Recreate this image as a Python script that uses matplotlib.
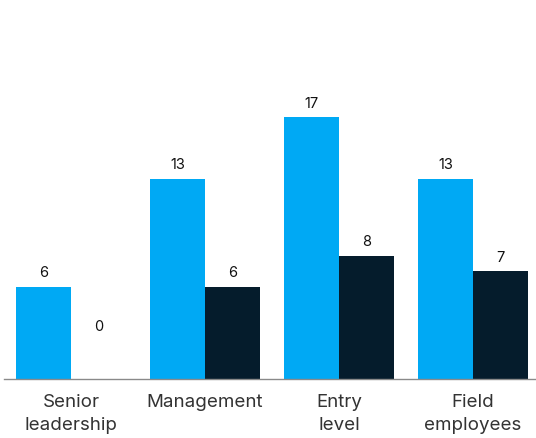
import matplotlib
matplotlib.use("Agg")
import matplotlib.pyplot as plt
import numpy as np

categories = ["Senior\nleadership", "Management", "Entry\nlevel", "Field\nemployees"]
series_a = [6, 13, 17, 13]
series_b = [0, 6, 8, 7]

color_a = "#00a9f4"
color_b = "#051c2c"

plt.rcParams["font.family"] = ["Inter", "DejaVu Sans"]

W, H = 536, 439
fig = plt.figure(figsize=(W / 100, H / 100), dpi=100)
ax = fig.add_axes([4 / W, 59 / H, (536 - 4) / W, (H - 59) / H])

x = np.arange(len(categories))
w = 0.41
bars_a = ax.bar(x - w / 2, series_a, width=w, color=color_a)
bars_b = ax.bar(x + w / 2, series_b, width=w, color=color_b)

for bars, vals in ((bars_a, series_a), (bars_b, series_b)):
    for b, v in zip(bars, vals):
        # empty bars get their label lifted clear of the axis line
        off = 5.5 if v > 0 else 33
        ax.annotate(str(v), (b.get_x() + b.get_width() / 2, v),
                    xytext=(0, off), textcoords="offset points",
                    ha="center", va="bottom", fontsize=10.5, color="#111111")

ax.set_xlim(-0.5, 3.47)
ax.set_ylim(0, 24.68)
ax.set_xticks(x)
ax.set_xticklabels(categories, fontsize=13.5, color="#333333", linespacing=1.45)
ax.tick_params(axis="x", length=0, pad=10)
ax.set_yticks([])
for s in ("top", "right", "left"):
    ax.spines[s].set_visible(False)
ax.spines["bottom"].set_color("#8a8a8a")
ax.spines["bottom"].set_linewidth(1)

fig.savefig("out.png", dpi=100)
